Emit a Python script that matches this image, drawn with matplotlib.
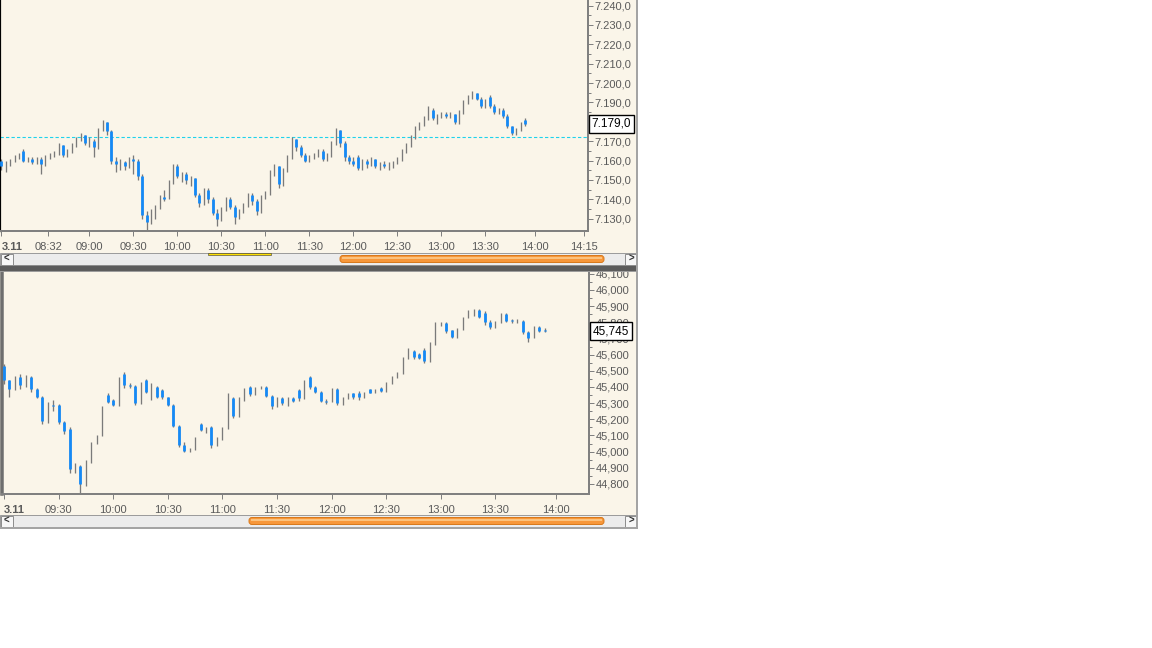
import matplotlib
matplotlib.use('Agg')
import matplotlib.pyplot as plt
from matplotlib.patches import Rectangle, FancyBboxPatch
import numpy as np

plt.rcParams['font.family'] = ['Liberation Sans', 'DejaVu Sans']

W, H = 1152, 648
PX = 72 / 100          # points per pixel at dpi 100
CREAM = '#FAF5E9'
BLUE = '#1589F5'
GRAY = '#7A7A7A'
TXT = '#5A5A5A'

# ---- data: 3 minute bars, times in minutes of the day ----
bar_step = 3

# upper panel, starts 08:00
top_start = 480
top_open = [7160, 7157, 7158, 7160, 7162, 7165, 7160, 7161, 7159, 7161,
            7158, 7162, 7163, 7164, 7168, 7163, 7165, 7168, 7171, 7173,
            7169, 7170, 7167, 7176, 7180, 7175, 7160, 7158, 7159, 7157,
            7161, 7160, 7152, 7132, 7128, 7134, 7136, 7141, 7140, 7149,
            7157, 7152, 7153, 7150, 7151, 7142, 7138, 7145, 7140, 7133,
            7130, 7135, 7140, 7136, 7131, 7134, 7137, 7142, 7139, 7134,
            7141, 7143, 7154, 7157, 7148, 7155, 7162, 7171, 7167, 7163,
            7160, 7162, 7163, 7165, 7161, 7163, 7169, 7176, 7169, 7162,
            7160, 7162, 7156, 7160, 7158, 7161, 7157, 7158, 7157, 7158,
            7159, 7161, 7165, 7168, 7172, 7177, 7179, 7182, 7186, 7182,
            7183, 7184, 7183, 7184, 7180, 7185, 7190, 7193, 7195, 7192,
            7188, 7193, 7188, 7185, 7186, 7183, 7178, 7174, 7176, 7181]
top_high = [7161, 7160, 7161, 7163, 7164, 7166, 7162, 7162, 7162, 7162,
            7163, 7164, 7165, 7169, 7168, 7166, 7169, 7172, 7174, 7173,
            7172, 7171, 7177, 7181, 7180, 7176, 7162, 7161, 7160, 7162,
            7163, 7161, 7153, 7134, 7135, 7137, 7142, 7145, 7150, 7158,
            7158, 7154, 7154, 7152, 7151, 7143, 7146, 7146, 7141, 7135,
            7136, 7141, 7141, 7137, 7135, 7138, 7143, 7143, 7140, 7142,
            7144, 7155, 7158, 7157, 7156, 7163, 7172, 7171, 7168, 7164,
            7163, 7164, 7166, 7166, 7164, 7170, 7177, 7176, 7170, 7163,
            7162, 7163, 7161, 7161, 7162, 7161, 7159, 7160, 7159, 7160,
            7162, 7166, 7169, 7173, 7178, 7180, 7183, 7188, 7187, 7184,
            7185, 7185, 7185, 7184, 7186, 7191, 7194, 7196, 7195, 7193,
            7192, 7194, 7189, 7187, 7187, 7184, 7178, 7177, 7180, 7182]
top_low = [7155, 7154, 7157, 7159, 7161, 7159, 7159, 7158, 7158, 7153,
           7157, 7161, 7162, 7163, 7162, 7162, 7164, 7167, 7170, 7168,
           7167, 7162, 7166, 7175, 7173, 7158, 7154, 7155, 7155, 7156,
           7153, 7150, 7130, 7124, 7127, 7130, 7135, 7139, 7140, 7148,
           7151, 7149, 7148, 7147, 7141, 7136, 7137, 7138, 7132, 7126,
           7129, 7134, 7135, 7127, 7130, 7133, 7136, 7137, 7132, 7133,
           7140, 7142, 7152, 7146, 7147, 7154, 7161, 7165, 7162, 7159,
           7159, 7161, 7162, 7160, 7160, 7162, 7168, 7167, 7160, 7158,
           7157, 7155, 7155, 7156, 7157, 7156, 7155, 7156, 7155, 7156,
           7158, 7160, 7164, 7167, 7171, 7176, 7178, 7181, 7181, 7179,
           7182, 7182, 7182, 7179, 7179, 7184, 7189, 7192, 7191, 7187,
           7187, 7187, 7184, 7184, 7182, 7177, 7173, 7173, 7175, 7178]
top_close = [7157, 7158, 7160, 7162, 7163, 7160, 7161, 7159, 7161, 7158,
             7162, 7163, 7164, 7168, 7163, 7165, 7168, 7171, 7173, 7169,
             7170, 7167, 7176, 7180, 7175, 7160, 7158, 7159, 7157, 7161,
             7160, 7152, 7132, 7128, 7134, 7136, 7141, 7140, 7149, 7157,
             7152, 7153, 7150, 7151, 7142, 7138, 7145, 7140, 7133, 7130,
             7135, 7140, 7136, 7131, 7134, 7137, 7142, 7139, 7134, 7141,
             7143, 7154, 7157, 7148, 7155, 7162, 7171, 7167, 7163, 7160,
             7162, 7163, 7165, 7161, 7163, 7169, 7176, 7169, 7162, 7160,
             7158, 7156, 7160, 7158, 7161, 7157, 7158, 7157, 7158, 7159,
             7161, 7165, 7168, 7172, 7177, 7179, 7182, 7186, 7182, 7183,
             7184, 7183, 7184, 7180, 7185, 7190, 7193, 7195, 7192, 7188,
             7191, 7188, 7185, 7186, 7183, 7178, 7174, 7176, 7179, 7179]
top_ref = 7172  # dashed reference line

# lower panel, starts 09:00
bot_start = 540
bot_open = [45530, 45440, 45390, 45460, 45410, 45460, 45390, 45340, 45190, 45290,
            45290, 45185, 45140, 44890, 44910, 44800, 44940, 45050, 45100, 45350,
            45320, 45290, 45480, 45410, 45405, 45300, 45440, 45370, 45400, 45380,
            45335, 45290, 45160, 45040, 45005, 45015, 45170, 45135, 45155, 45040,
            45080, 45145, 45330, 45220, 45320, 45400, 45355, 45395, 45400, 45345,
            45280, 45330, 45300, 45330, 45380, 45330, 45460, 45400, 45370, 45315,
            45310, 45390, 45300, 45330, 45360, 45365, 45335, 45385, 45365, 45395,
            45375, 45425, 45460, 45485, 45580, 45625, 45605, 45630, 45560, 45665,
            45785, 45795, 45750, 45710, 45755, 45830, 45865, 45875, 45860, 45800,
            45770, 45800, 45850, 45815, 45805, 45810, 45740, 45705, 45770, 45755]
bot_high = [45540, 45445, 45470, 45480, 45475, 45465, 45395, 45345, 45310, 45320,
            45295, 45190, 45150, 44930, 44915, 44950, 45060, 45105, 45285, 45365,
            45325, 45460, 45495, 45425, 45410, 45430, 45450, 45425, 45405, 45385,
            45340, 45295, 45165, 45060, 45020, 45090, 45175, 45150, 45160, 45090,
            45150, 45365, 45335, 45340, 45395, 45405, 45402, 45405, 45405, 45350,
            45335, 45335, 45340, 45340, 45385, 45445, 45470, 45405, 45378, 45325,
            45395, 45395, 45335, 45365, 45365, 45372, 45370, 45390, 45388, 45400,
            45430, 45465, 45495, 45585, 45640, 45630, 45612, 45640, 45675, 45800,
            45800, 45800, 45755, 45765, 45835, 45875, 45885, 45880, 45868, 45815,
            45805, 45860, 45855, 45820, 45818, 45815, 45745, 45780, 45775, 45765]
bot_low = [45420, 45340, 45380, 45390, 45400, 45370, 45330, 45170, 45180, 45250,
           45170, 45110, 44870, 44870, 44745, 44790, 44930, 45045, 45095, 45300,
           45280, 45285, 45395, 45395, 45290, 45295, 45360, 45320, 45330, 45325,
           45280, 45150, 45030, 44995, 44995, 45010, 45125, 45115, 45020, 45035,
           45070, 45140, 45205, 45215, 45315, 45345, 45350, 45385, 45335, 45265,
           45275, 45290, 45285, 45305, 45315, 45325, 45390, 45360, 45305, 45295,
           45305, 45290, 45290, 45325, 45325, 45320, 45330, 45360, 45360, 45368,
           45370, 45420, 45458, 45480, 45575, 45575, 45570, 45550, 45555, 45660,
           45775, 45735, 45700, 45705, 45750, 45825, 45840, 45825, 45785, 45760,
           45765, 45795, 45800, 45795, 45798, 45730, 45680, 45700, 45738, 45740]
bot_close = [45440, 45390, 45450, 45410, 45460, 45390, 45340, 45190, 45290, 45280,
             45185, 45130, 44890, 44910, 44800, 44940, 45050, 45100, 45270, 45310,
             45290, 45440, 45410, 45405, 45300, 45420, 45370, 45400, 45340, 45335,
             45290, 45160, 45040, 45005, 45015, 45080, 45135, 45140, 45040, 45080,
             45145, 45350, 45220, 45320, 45390, 45355, 45395, 45398, 45345, 45280,
             45320, 45300, 45330, 45315, 45330, 45430, 45400, 45370, 45315, 45310,
             45385, 45300, 45330, 45355, 45335, 45335, 45360, 45365, 45380, 45375,
             45425, 45460, 45485, 45575, 45630, 45585, 45580, 45560, 45665, 45785,
             45795, 45745, 45710, 45755, 45830, 45865, 45870, 45835, 45800, 45770,
             45800, 45850, 45810, 45805, 45812, 45740, 45705, 45770, 45745, 45745]

top_tick_pos = [480, 512, 540, 570, 600, 630, 660, 690, 720, 750, 780, 810, 844, 877]
top_tick_lbl = ['3.11', '08:32', '09:00', '09:30', '10:00', '10:30', '11:00',
                '11:30', '12:00', '12:30', '13:00', '13:30', '14:00', '14:15']
bot_tick_pos = [540, 570, 600, 630, 660, 690, 720, 750, 780, 810, 843]
bot_tick_lbl = ['3.11', '09:30', '10:00', '10:30', '11:00', '11:30', '12:00',
                '12:30', '13:00', '13:30', '14:00']
top_yticks = np.arange(7130, 7241, 10)
bot_yticks = np.arange(44800, 46101, 100)


def fmt_top(v):
    return f"{v:,.1f}".replace(',', 'X').replace('.', ',').replace('X', '.')


def fmt_bot(v):
    return f"{int(v):,}"


def px_axes(fig, x0, y0, x1, y1, **kw):
    return fig.add_axes([x0 / W, 1 - y1 / H, (x1 - x0) / W, (y1 - y0) / H], **kw)


def draw_bars(ax, start, o, h, l, c):
    o, h, l, c = map(np.asarray, (o, h, l, c))
    t = start + bar_step * np.arange(len(c))
    ax.vlines(t, l, h, color=GRAY, lw=1.3 * PX, zorder=2)
    down = c < o
    ax.vlines(t[down], c[down], o[down], color=BLUE, lw=2.8 * PX, zorder=3)


def style_axes(ax, xlim, ylim, xt, xl, yt, yl, step, left_color, left_w):
    ax.set_facecolor('none')
    ax.set_xlim(xlim)
    ax.set_ylim(ylim)
    ax.spines['top'].set_visible(False)
    ax.spines['left'].set_color(left_color)
    ax.spines['left'].set_linewidth(left_w * PX)
    for s in ('right', 'bottom'):
        ax.spines[s].set_color('#808080')
        ax.spines[s].set_linewidth(2 * PX)
    ax.yaxis.tick_right()
    ax.set_yticks(yt)
    ax.set_yticklabels(yl)
    ax.set_yticks(yt[:-1] + step / 2, minor=True)
    ax.tick_params(axis='y', which='major', length=5 * PX, width=1 * PX, color='#808080',
                   pad=1.2, labelsize=8, labelcolor=TXT)
    ax.tick_params(axis='y', which='minor', length=3 * PX, width=1 * PX, color='#808080')
    ax.set_xticks(xt)
    ax.set_xticklabels(xl)
    ax.tick_params(axis='x', length=5 * PX, width=1 * PX, color='#808080', pad=4,
                   labelsize=8, labelcolor=TXT)
    first = ax.get_xticklabels()[0]
    first.set_ha('left')
    first.set_fontweight('bold')


def price_box(ax, value, text):
    # last price marker; hides the axis label lying under it, as in the platform
    for lab, v in zip(ax.get_yticklabels(), ax.get_yticks()):
        if abs(v - value) < (ax.get_yticks()[1] - ax.get_yticks()[0]) * 0.2:
            lab.set_visible(False)
    ax.text(1.006, value, text, transform=ax.get_yaxis_transform(),
            ha='left', va='center', fontsize=8.5, color='black', clip_on=False, zorder=6,
            bbox=dict(boxstyle='square,pad=0.25', fc='white', ec='black', lw=1))


def scrollbar(ax, y, thumb_x0, thumb_x1):
    ax.add_patch(Rectangle((0, y), 637, 12, fc='#ECECEC', ec='#9A9A9A', lw=0.7))
    for bx, ch in ((0.5, '<'), (625, '>')):
        ax.add_patch(Rectangle((bx, y + 0.5), 12, 11, fc='#F7F7F7', ec='#8C8C8C', lw=0.7))
        ax.text(bx + 6, y + 6, ch, ha='center', va='center', fontsize=7,
                fontweight='bold', color='#333333')
    ax.add_patch(FancyBboxPatch((thumb_x0, y + 2.5), thumb_x1 - thumb_x0, 7,
                                boxstyle='round,pad=0,rounding_size=3',
                                fc='#F7973A', ec='#D8781A', lw=0.7))
    ax.add_patch(Rectangle((thumb_x0 + 2, y + 3.5), thumb_x1 - thumb_x0 - 4, 2,
                           fc='#FBC27E', lw=0))


fig = plt.figure(figsize=(W / 100, H / 100), dpi=100, facecolor='white')

# background panels
back = fig.add_axes([0, 0, 1, 1], zorder=-1)
back.set_xlim(0, W)
back.set_ylim(H, 0)
back.axis('off')
back.add_patch(Rectangle((0, 0), 638, 253, fc=CREAM, lw=0))
back.add_patch(Rectangle((0, 272), 638, 243, fc=CREAM, lw=0))

# upper chart
ax1 = px_axes(fig, 0, 0, 588, 231)
draw_bars(ax1, top_start, top_open, top_high, top_low, top_close)
ax1.axhline(top_ref, color='#1ED2EC', lw=1.1 * PX, ls=(0, (3, 2)), zorder=1)
style_axes(ax1, (479.1, 880.0), (7123.6, 7242.9), top_tick_pos, top_tick_lbl,
           top_yticks, [fmt_top(v) for v in top_yticks], 10, 'black', 2.2)
price_box(ax1, top_close[-1], fmt_top(top_close[-1]))

# lower chart
ax2 = px_axes(fig, 2, 272, 589, 494)
draw_bars(ax2, bot_start, bot_open, bot_high, bot_low, bot_close)
style_axes(ax2, (538.9, 861.4), (44738, 46111), bot_tick_pos, bot_tick_lbl,
           bot_yticks, [fmt_bot(v) for v in bot_yticks], 100, '#6E6E6E', 3.5)
price_box(ax2, bot_close[-1], fmt_bot(bot_close[-1]))

# window chrome on top
front = fig.add_axes([0, 0, 1, 1], zorder=10)
front.set_xlim(0, W)
front.set_ylim(H, 0)
front.axis('off')
scrollbar(front, 253, 340, 604)
front.add_patch(Rectangle((208, 253), 63, 2.2, fc='#FFE000', ec='#333333', lw=0.4))
front.add_patch(Rectangle((0, 265), 638, 7, fc='#5C5C5C', lw=0))
front.add_patch(Rectangle((0, 265), 638, 1.2, fc='#8E8E8E', lw=0))
front.add_patch(Rectangle((0, 270.8), 638, 1.2, fc='#9C9C9C', lw=0))
scrollbar(front, 515, 249, 604)
front.add_patch(Rectangle((0, 527), 638, 2, fc='#A4A4A4', lw=0))
front.add_patch(Rectangle((636, 0), 2, 529, fc='#A4A4A4', lw=0))

fig.savefig('out.png', dpi=100, facecolor='white')
